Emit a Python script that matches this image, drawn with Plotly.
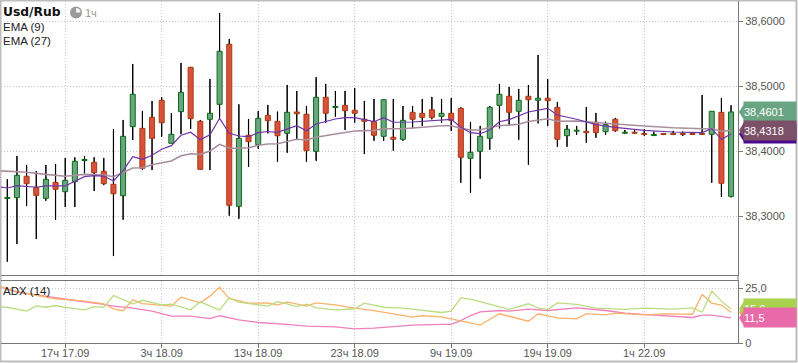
import plotly.graph_objects as go

# ---------- price candles ----------
opens = [38.3269,38.3282,38.3611,38.3442,38.3272,38.3518,38.3374,38.3528,38.3854,38.3826,
         38.3688,38.3488,38.3312,38.4374,38.4349,38.4518,38.4780,38.4118,38.4605,38.5288,
         38.4457,38.4488,38.4718,38.5642,38.3149,38.4242,38.4097,38.4549,38.4457,38.4272,
         38.4600,38.4565,38.3995,38.4826,38.4669,38.4703,38.4626,38.4488,38.4451,38.4226,
         38.4211,38.4180,38.4595,38.4580,38.4635,38.4534,38.4580,38.4657,38.3888,38.3995,
         38.4195,38.4703,38.4842,38.4611,38.4842,38.4780,38.4811,38.4672,38.4235,38.4305,
         38.4303,38.4442,38.4297,38.4488,38.4274,38.4289,38.4269,38.4238,38.4269,38.4269,
         38.4269,38.4269,38.4269,38.4257,38.4595,38.3303]
highs = [38.3565,38.3923,38.3785,38.3692,38.3785,38.3800,38.3892,38.3903,38.3923,38.3903,
         38.3892,38.4338,38.4477,38.5338,38.4615,38.4769,38.4826,38.4580,38.5354,38.5292,
         38.4477,38.5108,38.6123,38.5723,38.4718,38.4492,38.4615,38.4708,38.4605,38.5015,
         38.4923,38.4692,38.5134,38.5031,38.4923,38.4923,38.4969,38.4769,38.4800,38.4789,
         38.4800,38.4692,38.4692,38.4800,38.4831,38.4800,38.4815,38.4672,38.4446,38.4385,
         38.4692,38.5031,38.4985,38.4954,38.5015,38.5477,38.5108,38.4754,38.4400,38.4385,
         38.4677,38.4585,38.4451,38.4508,38.4323,38.4323,38.4334,38.4297,38.4277,38.4308,
         38.4297,38.4288,38.4862,38.4611,38.4815,38.4703]
lows = [38.2297,38.2569,38.3154,38.2646,38.3235,38.2943,38.3138,38.3138,38.3657,38.3385,
        38.3477,38.2385,38.2943,38.4169,38.3708,38.3708,38.4220,38.4118,38.4262,38.4338,
        38.3718,38.3708,38.4508,38.3005,38.2958,38.3758,38.4035,38.4272,38.3835,38.3974,
        38.4180,38.3835,38.3851,38.4435,38.4528,38.4323,38.4435,38.3954,38.4158,38.4158,
        38.4005,38.4158,38.4349,38.4385,38.4488,38.4435,38.4308,38.3512,38.3358,38.3574,
        38.4020,38.4349,38.4395,38.4174,38.3789,38.4426,38.4385,38.4066,38.4066,38.4251,
        38.4128,38.4205,38.4251,38.4297,38.4262,38.4262,38.4235,38.4231,38.4246,38.4246,
        38.4231,38.4251,38.4251,38.3512,38.3297,38.3288]
closes = [38.3285,38.3626,38.3497,38.3318,38.3565,38.3411,38.3549,38.3842,38.3869,38.3666,
          38.3497,38.3343,38.4226,38.4872,38.3734,38.4195,38.4435,38.4257,38.4903,38.4497,
          38.3718,38.4580,38.5534,38.3165,38.4195,38.4143,38.4503,38.4466,38.4235,38.4595,
          38.4574,38.4005,38.4826,38.4580,38.4685,38.4620,38.4580,38.4457,38.4242,38.4789,
          38.4180,38.4472,38.4488,38.4518,38.4518,38.4580,38.4472,38.3903,38.3980,38.4226,
          38.4672,38.4872,38.4595,38.4780,38.4789,38.4811,38.4774,38.4180,38.4334,38.4320,
          38.4282,38.4282,38.4405,38.4312,38.4289,38.4274,38.4254,38.4254,38.4254,38.4254,
          38.4254,38.4254,38.4254,38.4611,38.3503,38.4601]

# ---------- moving averages ----------
ema27_x = [-1,0,2,4,6,8,10,11,12,13,14,15,16,17,18,19,20,21,22,23,24,25,26,27,28,30,31,32,34,36,38,39,41,43,45,46,47,48,49,50,51,53,54,56,57,59,61,63,66,69,72,73,74,75]
ema27_y = [38.3697,38.3688,38.3672,38.3641,38.3611,38.3641,38.3631,38.3605,38.3666,38.3738,38.3743,38.3789,38.3820,38.3846,38.3928,38.3958,38.3949,38.4000,38.4103,38.4042,38.4042,38.4051,38.4088,38.4108,38.4112,38.4180,38.4169,38.4211,38.4262,38.4308,38.4318,38.4343,38.4343,38.4369,38.4389,38.4389,38.4349,38.4323,38.4323,38.4365,38.4389,38.4411,38.4454,38.4497,38.4457,38.4462,38.4435,38.4415,38.4385,38.4358,38.4343,38.4343,38.4303,38.4318]
ema9_x = [-1,0,1,3,4,6,8,9,10,11,12,13,14,15,16,17,18,19,20,21,22,23,24,25,26,27,28,30,31,32,34,35,36,37,38,39,40,42,45,46,47,48,49,50,51,52,54,56,57,59,61,63,66,69,72,73,74,75]
ema9_y = [38.3451,38.3431,38.3466,38.3442,38.3462,38.3462,38.3605,38.3620,38.3615,38.3538,38.3697,38.3912,38.3872,38.3934,38.4026,38.4082,38.4242,38.4288,38.4174,38.4251,38.4503,38.4272,38.4231,38.4220,38.4282,38.4300,38.4288,38.4389,38.4312,38.4415,38.4492,38.4512,38.4512,38.4477,38.4451,38.4512,38.4442,38.4446,38.4477,38.4488,38.4365,38.4282,38.4266,38.4323,38.4451,38.4482,38.4600,38.4657,38.4554,38.4488,38.4405,38.4365,38.4318,38.4292,38.4282,38.4343,38.4180,38.4262]

# ---------- ADX panel ----------
adx_x = [-1,1,3,5,7,10,11,13,15,17,19,21,22,24,26,29,31,34,36,38,41,42,45,46,47,48,49,51,52,54,56,59,62,64,67,69,71,72,73,75]
adx_y = [26.1,23.3,22.1,20.7,19.5,17.7,16.9,16.0,14.6,12.3,12.3,11.2,12.5,10.6,9.4,8.5,7.7,7.4,6.5,6.8,7.7,8.2,8.5,8.5,10.3,12.6,14.3,14.9,14.6,15.5,14.9,16.1,14.9,13.7,12.8,12.2,11.7,12.8,12.8,11.5]
minus_x = [-1,1,3,5,8,10,11,12,13,14,17,18,20,21,22,23,25,27,28,29,31,32,34,36,38,39,41,42,43,45,46,49,51,54,55,57,59,60,62,63,66,68,71,72,73,74,75]
minus_y = [26.1,23.6,21.9,20.3,19.2,18.0,15.7,14.8,19.8,18.1,16.9,21.0,18.4,21.5,25.6,20.3,18.3,18.4,17.4,18.9,16.9,18.4,17.5,16.0,14.9,14.1,12.6,11.9,12.5,12.0,11.1,8.2,13.4,10.0,13.4,11.5,11.1,13.5,12.9,13.7,12.9,13.4,13.2,22.2,18.3,17.4,14.1]
plus_x = [-1,0,2,3,4,5,6,8,9,10,11,13,14,16,17,19,20,22,23,24,27,28,29,30,31,32,34,36,37,39,41,43,45,46,47,48,52,54,55,56,57,59,61,64,66,69,71,72,73,74,75]
plus_y = [16.7,16.4,14.6,17.0,16.4,17.2,16.3,15.2,16.7,16.4,21.8,18.0,19.6,17.5,17.8,15.2,18.9,15.1,20.7,18.7,16.9,18.9,18.0,16.7,17.8,16.1,15.2,15.7,18.3,16.4,16.0,14.9,14.0,14.6,20.7,20.1,15.4,18.0,16.1,15.2,18.4,17.7,16.0,15.4,16.0,15.5,16.1,14.1,23.8,19.2,15.6]

# ---------- axis labels and last-value tags ----------
tick_idx = [6,16,26,36,46,56,66]
tick_txt = ["17ч 17.09","3ч 18.09","13ч 18.09","23ч 18.09","9ч 19.09","19ч 19.09","1ч 22.09"]
price_ticks = [38.3,38.4,38.5,38.6]
adx_ticks = [0,25]
adx_tick_txt = ["0","25,0"]
last_close = 38.4601
last_ema27 = 38.4318
last_ema9 = 38.4262
last_plus = 15.6
last_minus = 14.1
last_adx = 11.5

W, H = 798, 363
L, T, R, B = 1, 1, 738, 343
C_GREEN, C_GREEN_E = "#6aa583", "#0b6b12"
C_RED, C_RED_E = "#d9513a", "#a83a12"
GRID = "#c6c9c6"
GRID_DASH = "1px,2px"
AXC = "#777777"
TXT = "#555555"
SANS = "Liberation Sans, Arial, sans-serif"

def px(v):
    return (v - L) / (R - L)
def py(v):
    return (B - v) / (B - T)

idx = list(range(len(opens)))
fig = go.Figure()
fig.add_trace(go.Bar(x=idx, base=lows, y=[h - l for h, l in zip(highs, lows)], width=0.02,
                     marker=dict(color="#000000", line=dict(color="#000000", width=1)),
                     hoverinfo="skip", showlegend=False))
fig.add_trace(go.Bar(x=idx, base=[min(o, c) for o, c in zip(opens, closes)],
                     y=[abs(c - o) for o, c in zip(opens, closes)], width=0.52,
                     marker=dict(color=[C_GREEN if c > o else C_RED for o, c in zip(opens, closes)],
                                 line=dict(color=[C_GREEN_E if c > o else C_RED_E for o, c in zip(opens, closes)], width=1)),
                     hoverinfo="skip", showlegend=False))
fig.add_trace(go.Scatter(x=ema27_x, y=ema27_y, mode="lines", line=dict(color="#a98f9d", width=1.6), hoverinfo="skip", showlegend=False))
fig.add_trace(go.Scatter(x=ema9_x, y=ema9_y, mode="lines", line=dict(color="#6f33a8", width=1.2), hoverinfo="skip", showlegend=False))
for xs, ys, col in [(adx_x, adx_y, "#f07fbb"), (minus_x, minus_y, "#f9b26c"), (plus_x, plus_y, "#bcdc80")]:
    fig.add_trace(go.Scatter(x=xs, y=ys, xaxis="x2", yaxis="y2", mode="lines",
                             line=dict(color=col, width=1.3), hoverinfo="skip", showlegend=False))

x_rng = [(L - 7.3) / 9.65, (R - 7.3) / 9.65]
main_bottom = (B - 275) / (B - T)
low_top = (B - 281) / (B - T)
PX_PRICE = 650.0
PX_ADX = 2.18
def price_y(v):
    return 86 + (38.5 - v) * PX_PRICE
def adx_py(v):
    return B - v * PX_ADX

fig.update_layout(
    width=W, height=H, margin=dict(l=L, r=W - R, t=T, b=H - B, autoexpand=False),
    paper_bgcolor="#ffffff", plot_bgcolor="#ffffff", barmode="overlay", separators=", ",
    showlegend=False, hovermode=False, font=dict(family=SANS, color=TXT, size=11),
    xaxis=dict(domain=[0, 1], range=x_rng, anchor="y", tickmode="array", tickvals=tick_idx, showticklabels=False,
               automargin=False, ticks="", showgrid=True, gridcolor=GRID, griddash=GRID_DASH, gridwidth=1, zeroline=False,
               showline=True, linecolor=AXC, linewidth=1),
    xaxis2=dict(domain=[0, 1], range=x_rng, anchor="y2", tickmode="array", tickvals=tick_idx, ticktext=tick_txt,
                automargin=False, ticks="outside", ticklen=4, tickcolor=AXC, showgrid=True, gridcolor=GRID, griddash=GRID_DASH, gridwidth=1,
                zeroline=False, showline=True, linecolor=AXC, linewidth=1, mirror=True, ticklabelstandoff=-4,
                tickfont=dict(family=SANS, size=11, color=TXT)),
    yaxis=dict(domain=[main_bottom, 1], range=[38.5 - (275 - 86) / PX_PRICE, 38.5 + (86 - T) / PX_PRICE], anchor="x",
               automargin=False, side="right", tickmode="array", tickvals=price_ticks, tickformat=".4f", ticks="outside", ticklen=4,
               tickcolor=AXC, showgrid=True, gridcolor=GRID, griddash=GRID_DASH, gridwidth=1, zeroline=False,
               showline=True, linecolor=AXC, linewidth=1, tickfont=dict(family=SANS, size=11, color=TXT)),
    yaxis2=dict(domain=[0, low_top], range=[0, (B - 281) / PX_ADX], anchor="x2", side="right", tickmode="array",
                automargin=False, tickvals=adx_ticks, ticktext=adx_tick_txt, ticks="outside", ticklen=4, tickcolor=AXC, showgrid=True,
                gridcolor=GRID, griddash=GRID_DASH, gridwidth=1, zeroline=False, showline=True, linecolor=AXC, linewidth=1,
                tickfont=dict(family=SANS, size=11, color=TXT)),
)

shapes = []
def pointer(cy, col):
    path = f"M {px(745)},{py(cy - 9.5)} L {px(739)},{py(cy)} L {px(745)},{py(cy + 9.5)} Z"
    shapes.append(dict(type="path", xref="paper", yref="paper", path=path, fillcolor=col,
                       line=dict(width=0), layer="above"))
# outer frame and connector between panels
shapes.append(dict(type="rect", xref="paper", yref="paper", x0=px(0.5), x1=px(796.5), y0=py(361.5), y1=py(0.5),
                   line=dict(color="#bdbdbd", width=2), layer="below"))
shapes.append(dict(type="line", xref="paper", yref="paper", x0=px(R), x1=px(R), y0=py(275), y1=py(281),
                   line=dict(color=AXC, width=1), layer="above"))
# clock icon
shapes.append(dict(type="circle", xref="paper", yref="paper", x0=px(70), x1=px(82), y0=py(18.5), y1=py(6.5),
                   fillcolor="#9a9a9a", line=dict(width=0), layer="above"))
shapes.append(dict(type="path", xref="paper", yref="paper",
                   path=f"M {px(76)},{py(12.5)} L {px(76)},{py(8)} Q {px(80.5)},{py(8)} {px(80.5)},{py(12.5)} Z",
                   fillcolor="#f2f2f2", line=dict(width=0), layer="above"))
pointer(price_y(last_close), "#6aa583")
pointer(price_y(last_ema9), "#4b0a8c")
pointer(price_y(last_ema27), "#7b5068")
pointer(adx_py(last_minus), "#f9a94d")
pointer(adx_py(last_plus), "#a9d24f")
pointer(adx_py(last_adx), "#e96aa8")
fig.update_layout(shapes=shapes)

ann = []
def label(text, x, y, size=11.5, color="#222222", family=SANS):
    ann.append(dict(text=text, xref="paper", yref="paper", x=px(x), y=py(y), xanchor="left", yanchor="middle",
                    showarrow=False, borderpad=0, font=dict(family=family, size=size, color=color)))
def tag(text, v, yref, col):
    ann.append(dict(text=text, xref="paper", yref=yref, x=px(743.5), y=v, xanchor="left", yanchor="middle",
                    showarrow=False, width=51.5, height=19, bgcolor=col, align="left", borderpad=0,
                    font=dict(family=SANS, size=11, color="#ffffff")))
label("<b>Usd/Rub</b>", 2, 12, size=12.3, color="#111111", family="DejaVu Sans, sans-serif")
label("1ч", 84, 13, size=11, color="#999999")
label("EMA (9)", 2, 27)
label("EMA (27)", 2, 41)
label("ADX (14)", 2, 291)
tag("38,4601", last_close, "y", "#6aa583")
tag(" ", last_ema9, "y", "#4b0a8c")
tag("38,4318", last_ema27, "y", "#7b5068")
tag("15,6", last_plus, "y2", "#a9d24f")
tag("11,5", last_adx, "y2", "#e96aa8")
fig.update_layout(annotations=ann)

fig.write_html("out.html", config=dict(displayModeBar=False),
               post_script="document.body.style.margin='0';document.body.style.overflow='hidden';")
